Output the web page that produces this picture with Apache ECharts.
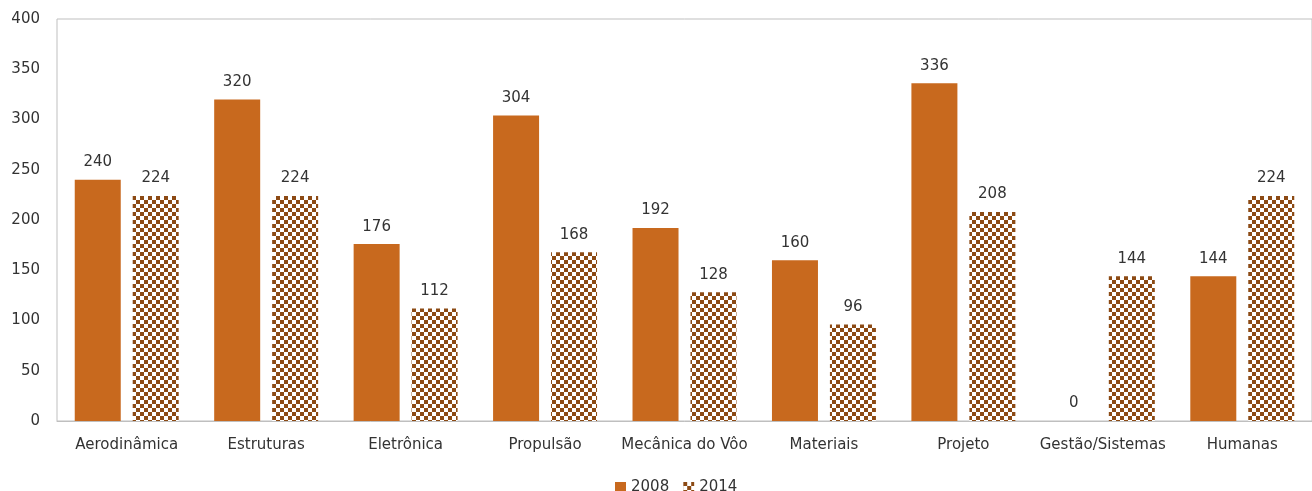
<!DOCTYPE html>
<html>
<head>
<meta charset="utf-8">
<script src="https://cdn.jsdelivr.net/npm/echarts@6/dist/echarts.min.js"></script>
<style>
  html, body { margin: 0; padding: 0; background: #fff; }
  #chart { width: 1312px; height: 491px; }
</style>
</head>
<body>
<div id="chart"></div>
<script>
var categories = ['Aerodinâmica', 'Estruturas', 'Eletrônica', 'Propulsão', 'Mecânica do Vôo', 'Materiais', 'Projeto', 'Gestão/Sistemas', 'Humanas'];
var values2008 = [240, 320, 176, 304, 192, 160, 336, 0, 144];
var values2014 = [224, 224, 112, 168, 128, 96, 208, 144, 224];
var seriesNames = ['2008', '2014'];

var textColor = '#333333';
var fontFamily = '"DejaVu Sans", Verdana, sans-serif';

// xadrez marrom para a série 2014
function checker() {
    var c = document.createElement('canvas');
    c.width = 8;
    c.height = 8;
    var ctx = c.getContext('2d');
    ctx.fillStyle = '#ffffff';
    ctx.fillRect(0, 0, 8, 8);
    ctx.fillStyle = '#8c4a14';
    ctx.fillRect(0, 0, 4, 4);
    ctx.fillRect(4, 4, 4, 4);
    return c;
}

var myChart = echarts.init(document.getElementById('chart'));

var labelStyle = {
    show: true,
    position: 'top',
    distance: 10,
    color: textColor,
    fontSize: 15,
    fontFamily: fontFamily
};

var option = {
    animation: false,
    grid: {
        left: 57,
        right: -1,
        top: 19,
        bottom: 70,
        show: true,
        borderColor: '#bfbfbf',
        borderWidth: 1
    },
    legend: {
        top: 475,
        left: 610,
        icon: 'rect',
        itemWidth: 11,
        itemHeight: 11,
        itemGap: 14,
        textStyle: { color: textColor, fontSize: 15, fontFamily: fontFamily, padding: [0, 0, 0, 0] },
        data: seriesNames
    },
    xAxis: {
        type: 'category',
        data: categories,
        axisLine: { lineStyle: { color: '#bfbfbf' } },
        axisTick: { show: false },
        axisLabel: {
            interval: 0,
            margin: 17,
            color: textColor,
            fontSize: 15,
            fontFamily: fontFamily
        }
    },
    yAxis: {
        type: 'value',
        min: 0,
        max: 400,
        interval: 50,
        axisLine: { show: false },
        axisTick: { show: false },
        splitLine: { show: false },
        axisLabel: {
            margin: 17,
            color: textColor,
            fontSize: 15,
            fontFamily: fontFamily
        }
    },
    series: [
        {
            name: seriesNames[0],
            type: 'bar',
            data: values2008,
            barWidth: 46,
            barGap: '26%',
            itemStyle: { color: '#c8691e' },
            label: labelStyle
        },
        {
            name: seriesNames[1],
            type: 'bar',
            data: values2014,
            barWidth: 46,
            itemStyle: { color: { image: checker(), repeat: 'repeat' } },
            label: labelStyle
        }
    ]
};

myChart.setOption(option);
</script>
</body>
</html>
